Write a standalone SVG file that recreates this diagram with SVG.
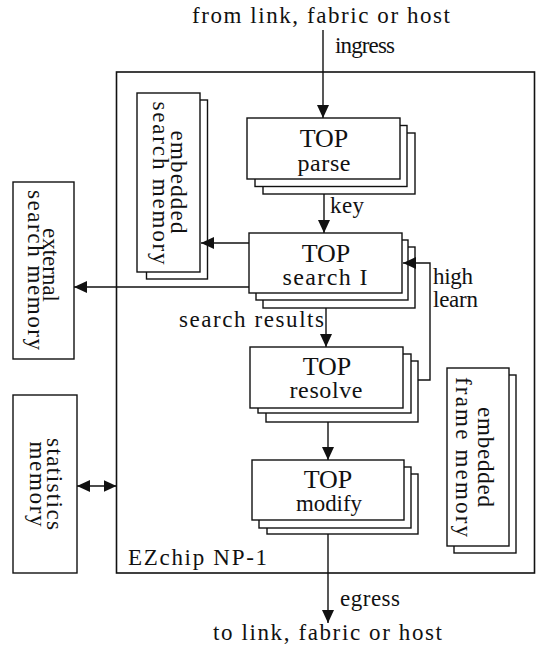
<svg xmlns="http://www.w3.org/2000/svg" width="538" height="648" viewBox="0 0 538 648">
  <style>
    text { font-family: "Liberation Serif", "Times New Roman", serif; fill: #111; }
    .lbl { font-size: 23px; }
    .top { font-size: 26px; text-anchor: middle; }
    .sub { font-size: 24px; text-anchor: middle; }
    .vt { font-size: 23px; text-anchor: middle; }
    .box { fill: #fff; stroke: #111; stroke-width: 1.4; }
    .chip { fill: none; stroke: #111; stroke-width: 1.6; }
    .wire { fill: none; stroke: #111; stroke-width: 1.4; }
  </style>
  <defs>
    <marker id="arrow" markerUnits="userSpaceOnUse" markerWidth="14" markerHeight="12" refX="13" refY="6" orient="auto-start-reverse">
      <path d="M0,0 L13,6 L0,12 z" fill="#111"/>
    </marker>
  </defs>

  <rect width="538" height="648" fill="#fff"/>

  <!-- outer labels -->
  <text class="lbl" x="192" y="23" textLength="258" lengthAdjust="spacing">from link, fabric or host</text>
  <text class="lbl" x="213" y="640" textLength="229" lengthAdjust="spacing">to link, fabric or host</text>

  <!-- chip boundary -->
  <g id="chip">
    <rect class="chip" x="116.5" y="72" width="418" height="501"/>
    <text class="lbl" x="128" y="565" textLength="139" lengthAdjust="spacing">EZchip NP-1</text>
  </g>

  <!-- external memories -->
  <g id="external-search-memory">
    <rect class="box" x="13" y="182" width="61" height="177"/>
    <text class="vt" transform="translate(43,265) rotate(90)" textLength="74" lengthAdjust="spacingAndGlyphs">external</text>
    <text class="vt" transform="translate(28,270) rotate(90)" textLength="160" lengthAdjust="spacing">search memory</text>
  </g>
  <g id="statistics-memory">
    <rect class="box" x="13" y="395" width="64" height="178"/>
    <text class="vt" transform="translate(47,484) rotate(90)" textLength="92" lengthAdjust="spacing">statistics</text>
    <text class="vt" transform="translate(30,484) rotate(90)" textLength="85" lengthAdjust="spacing">memory</text>
  </g>

  <!-- on-chip memories (two stacked sheets) -->
  <g id="embedded-search-memory">
    <rect class="box" x="146.5" y="100" width="61" height="179"/>
    <rect class="box" x="137" y="93" width="63" height="179"/>
    <text class="vt" transform="translate(171,182) rotate(90)" textLength="103" lengthAdjust="spacing">embedded</text>
    <text class="vt" transform="translate(153,183) rotate(90)" textLength="163" lengthAdjust="spacing">search memory</text>
  </g>
  <g id="embedded-frame-memory">
    <rect class="box" x="454" y="375" width="62" height="178"/>
    <rect class="box" x="447" y="368" width="62" height="178"/>
    <text class="vt" transform="translate(478,457) rotate(90)" textLength="100" lengthAdjust="spacing">embedded</text>
    <text class="vt" transform="translate(456,457) rotate(90)" textLength="160" lengthAdjust="spacing">frame memory</text>
  </g>

  <!-- TOP engines (three stacked sheets each) -->
  <g id="top-parse">
    <rect class="box" x="263" y="133" width="152" height="61"/>
    <rect class="box" x="255" y="125.5" width="152" height="61"/>
    <rect class="box" x="247" y="118" width="153" height="61"/>
    <text class="top" x="324" y="147">TOP</text>
    <text class="sub" x="324" y="171" textLength="53" lengthAdjust="spacing">parse</text>
  </g>
  <g id="top-search">
    <rect class="box" x="263" y="247" width="152" height="61"/>
    <rect class="box" x="256" y="240" width="152" height="60"/>
    <rect class="box" x="249" y="233" width="153" height="60"/>
    <text class="top" x="326" y="262">TOP</text>
    <text class="sub" x="325" y="285" textLength="85" lengthAdjust="spacing">search I</text>
  </g>
  <g id="top-resolve">
    <rect class="box" x="266" y="361" width="152" height="61"/>
    <rect class="box" x="258" y="354" width="153" height="59"/>
    <rect class="box" x="250" y="347" width="153" height="61"/>
    <text class="top" x="327" y="375">TOP</text>
    <text class="sub" x="326" y="398" textLength="73" lengthAdjust="spacing">resolve</text>
  </g>
  <g id="top-modify">
    <rect class="box" x="267" y="474" width="151" height="60"/>
    <rect class="box" x="259" y="467" width="152" height="61"/>
    <rect class="box" x="252" y="460" width="152" height="60"/>
    <text class="top" x="328" y="488">TOP</text>
    <text class="sub" x="329" y="511" textLength="66" lengthAdjust="spacingAndGlyphs">modify</text>
  </g>

  <!-- connectors -->
  <g id="connectors">
    <path class="wire" d="M323,30 V118" marker-end="url(#arrow)"/>
    <path class="wire" d="M324,194 V233" marker-end="url(#arrow)"/>
    <path class="wire" d="M249,243 H201" marker-end="url(#arrow)"/>
    <path class="wire" d="M249,287 H74" marker-end="url(#arrow)"/>
    <path class="wire" d="M326,308 V347" marker-end="url(#arrow)"/>
    <path class="wire" d="M418,380 H430 V263 H403" marker-end="url(#arrow)"/>
    <path class="wire" d="M328,422 V460" marker-end="url(#arrow)"/>
    <path class="wire" d="M328,534 V623" marker-end="url(#arrow)"/>
    <path class="wire" d="M77,486 H116.5" marker-start="url(#arrow)" marker-end="url(#arrow)"/>
  </g>

  <!-- connector labels -->
  <text class="lbl" x="335" y="53" textLength="60" lengthAdjust="spacing">ingress</text>
  <text class="lbl" x="330" y="213" textLength="34" lengthAdjust="spacing">key</text>
  <text class="lbl" x="179" y="327" textLength="145" lengthAdjust="spacing">search results</text>
  <text class="lbl" x="433" y="284" textLength="40" lengthAdjust="spacing">high</text>
  <text class="lbl" x="433" y="307" textLength="45" lengthAdjust="spacing">learn</text>
  <text class="lbl" x="340" y="606" textLength="60" lengthAdjust="spacing">egress</text>
</svg>
